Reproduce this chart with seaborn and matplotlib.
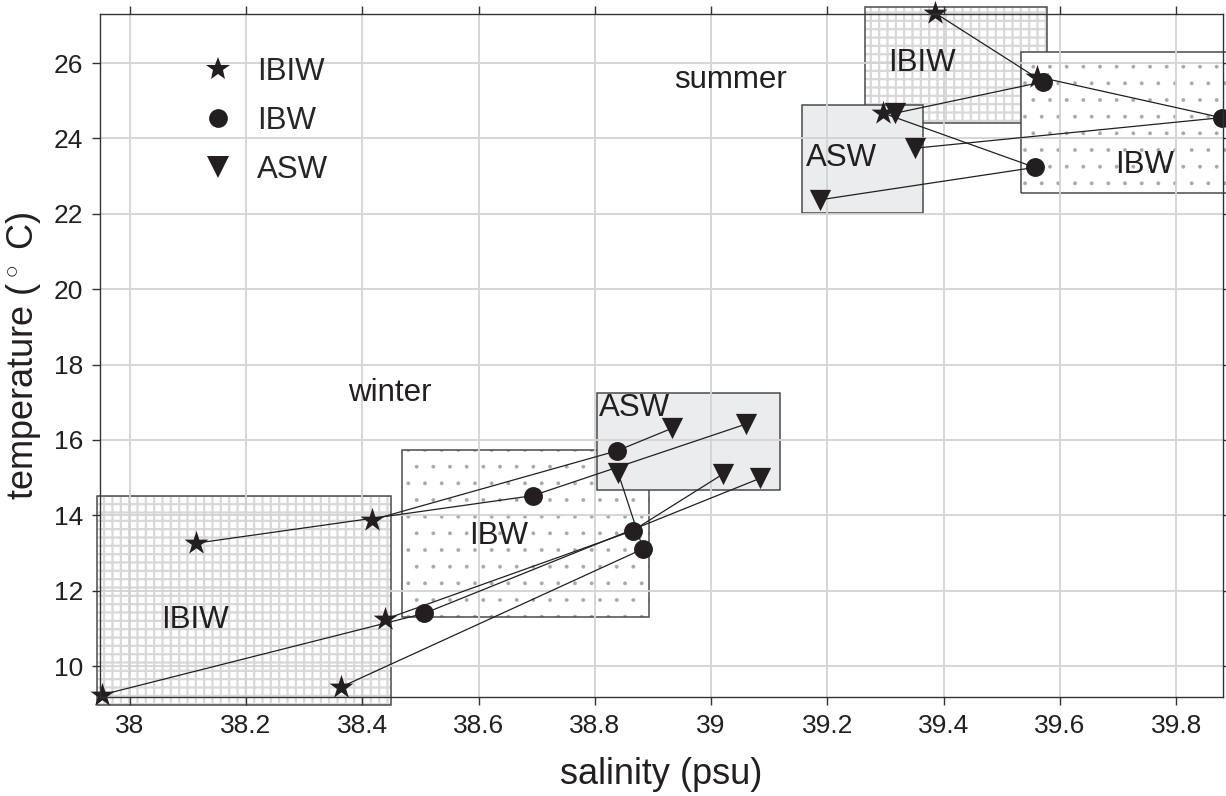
import numpy as np
import pandas as pd
import matplotlib
matplotlib.use("Agg")
import matplotlib.pyplot as plt
import seaborn as sns
from matplotlib.patches import Rectangle
from matplotlib.lines import Line2D

# ---------------- data ----------------
water_masses = ["IBIW", "IBW", "ASW"]

# winter stations (index k forms one IBIW -> IBW -> ASW chain)
winter_ibiw_sal = [38.417, 38.114, 38.439, 37.953, 38.363]
winter_ibiw_temp = [13.88, 13.26, 11.24, 9.24, 9.44]
winter_ibw_sal = [38.838, 38.693, 38.865, 38.507, 38.883]
winter_ibw_temp = [15.71, 14.52, 13.59, 11.40, 13.11]
winter_asw_sal = [38.933, 39.060, 39.021, 39.084, 38.840]
winter_asw_temp = [16.31, 16.42, 15.10, 14.98, 15.13]

# summer stations
summer_ibiw_sal = [39.385, 39.296, 39.560]
summer_ibiw_temp = [27.33, 24.67, 25.64]
summer_ibw_sal = [39.571, 39.557, 39.878]
summer_ibw_temp = [25.50, 23.23, 24.55]
summer_asw_sal = [39.317, 39.187, 39.351]
summer_asw_temp = [24.67, 22.37, 23.74]

# water-mass boxes
box_mass = ["IBIW", "IBW", "ASW", "IBIW", "IBW", "ASW"]
box_sal_min = [37.944, 38.468, 38.803, 39.264, 39.533, 39.157]
box_sal_max = [38.450, 38.893, 39.119, 39.577, 39.950, 39.365]
box_temp_min = [8.97, 11.30, 14.66, 24.42, 22.54, 22.01]
box_temp_max = [14.50, 15.73, 17.25, 27.49, 26.28, 24.89]

# box labels
label_text = ["IBIW", "IBW", "ASW", "IBIW", "IBW", "ASW", "winter", "summer"]
label_sal = [38.113, 38.635, 38.868, 39.363, 39.745, 39.225, 38.448, 39.034]
label_temp = [11.23, 13.44, 16.85, 25.99, 23.29, 23.47, 17.25, 25.55]

# ticks
x_ticks = [38.0, 38.2, 38.4, 38.6, 38.8, 39.0, 39.2, 39.4, 39.6, 39.8]
x_tick_labels = ["38", "38.2", "38.4", "38.6", "38.8", "39", "39.2", "39.4", "39.6", "39.8"]
y_ticks = [10, 12, 14, 16, 18, 20, 22, 24, 26]
y_tick_labels = ["10", "12", "14", "16", "18", "20", "22", "24", "26"]

# ---------------- style ----------------
sns.set_style("ticks")
plt.rcParams["font.family"] = ["Liberation Sans", "DejaVu Sans"]
plt.rcParams["mathtext.fontset"] = "custom"
plt.rcParams["mathtext.rm"] = "Liberation Sans"

INK = "#231f20"
EDGE = "#4a4a4a"
marker_map = {"IBIW": "*", "IBW": "o", "ASW": "v"}
size_map = {"IBIW": 330, "IBW": 185, "ASW": 235}
box_style = {
    "IBIW": dict(face="white", hatch="++", hcolor="#d8d8d8", hlw=1.6),
    "IBW": dict(face="white", hatch=".", hcolor="#a8a8a8", hlw=0.3),
    "ASW": dict(face="#ebecee", hatch=None, hcolor="#ebecee", hlw=1.0),
}

fig = plt.figure(figsize=(12.26, 7.96), dpi=100)
ax = fig.add_axes([0.0816, 0.1244, 0.9157, 0.858])

# boxes (order IBIW < IBW < ASW)
order = sorted(range(len(box_mass)), key=lambda i: water_masses.index(box_mass[i]))
for i in order:
    st = box_style[box_mass[i]]
    w = box_sal_max[i] - box_sal_min[i]
    h = box_temp_max[i] - box_temp_min[i]
    with plt.rc_context({"hatch.linewidth": st["hlw"]}):
        r1 = Rectangle((box_sal_min[i], box_temp_min[i]), w, h, facecolor=st["face"],
                       edgecolor=st["hcolor"], hatch=st["hatch"], linewidth=0,
                       zorder=0.2, clip_on=False)
    if hasattr(r1, "set_hatch_linewidth"):
        r1.set_hatch_linewidth(st["hlw"])
    r2 = Rectangle((box_sal_min[i], box_temp_min[i]), w, h, fill=False,
                   edgecolor=EDGE, linewidth=1.1, zorder=0.2, clip_on=False)
    ax.add_patch(r1)
    ax.add_patch(r2)

# connecting lines
for s_ibiw, t_ibiw, s_ibw, t_ibw, s_asw, t_asw in [
        (winter_ibiw_sal, winter_ibiw_temp, winter_ibw_sal, winter_ibw_temp, winter_asw_sal, winter_asw_temp),
        (summer_ibiw_sal, summer_ibiw_temp, summer_ibw_sal, summer_ibw_temp, summer_asw_sal, summer_asw_temp)]:
    for k in range(len(s_ibiw)):
        ax.plot([s_ibiw[k], s_ibw[k], s_asw[k]], [t_ibiw[k], t_ibw[k], t_asw[k]],
                color=INK, lw=0.9, zorder=2, clip_on=False)

# markers
rows = []
for mass, sal, temp in [("IBIW", winter_ibiw_sal + summer_ibiw_sal, winter_ibiw_temp + summer_ibiw_temp),
                        ("IBW", winter_ibw_sal + summer_ibw_sal, winter_ibw_temp + summer_ibw_temp),
                        ("ASW", winter_asw_sal + summer_asw_sal, winter_asw_temp + summer_asw_temp)]:
    for s, t in zip(sal, temp):
        rows.append({"mass": mass, "salinity": s, "temperature": t})
df = pd.DataFrame(rows)
for mass in water_masses:
    sns.scatterplot(data=df[df["mass"] == mass], x="salinity", y="temperature",
                    marker=marker_map[mass], s=size_map[mass], color=INK,
                    linewidth=0, ax=ax, zorder=3, clip_on=False, legend=False)

# text labels
for txt, s, t in zip(label_text, label_sal, label_temp):
    ax.text(s, t, txt, fontsize=22.5, color=INK, ha="center", va="center", zorder=4)

# legend
legend_ms = {"IBIW": 18, "IBW": 13.5, "ASW": 15.5}
handles = [Line2D([], [], linestyle="none", marker=marker_map[m], color=INK,
                  markersize=legend_ms[m], markeredgewidth=0) for m in water_masses]
ax.legend(handles, water_masses, loc="upper left", bbox_to_anchor=(0.165, 0.929),
          bbox_transform=fig.transFigure, frameon=False, fontsize=22.5,
          handlelength=1.0, handletextpad=0.75, labelspacing=0.62,
          borderpad=0, borderaxespad=0)

# axes
ax.set_xlim(37.949, 39.88)
ax.set_ylim(9.18, 27.30)
ax.set_xticks(x_ticks)
ax.set_xticklabels(x_tick_labels)
ax.set_yticks(y_ticks)
ax.set_yticklabels(y_tick_labels)
ax.tick_params(axis="both", which="major", direction="out", length=6, width=1,
               color="#333333", labelsize=19, labelcolor=INK, top=True, right=True, pad=6)
ax.grid(True, color="#d3d3d3", linewidth=1.3)
ax.set_axisbelow(True)
for sp in ax.spines.values():
    sp.set_color("#333333")
    sp.set_linewidth(1.0)
    sp.set_zorder(5)
ax.set_xlabel("salinity (psu)", fontsize=26, color=INK, labelpad=14)
ax.set_ylabel(r"temperature ($^\circ$ C)", fontsize=26, color=INK, labelpad=8)

fig.savefig("out.png", dpi=100)
